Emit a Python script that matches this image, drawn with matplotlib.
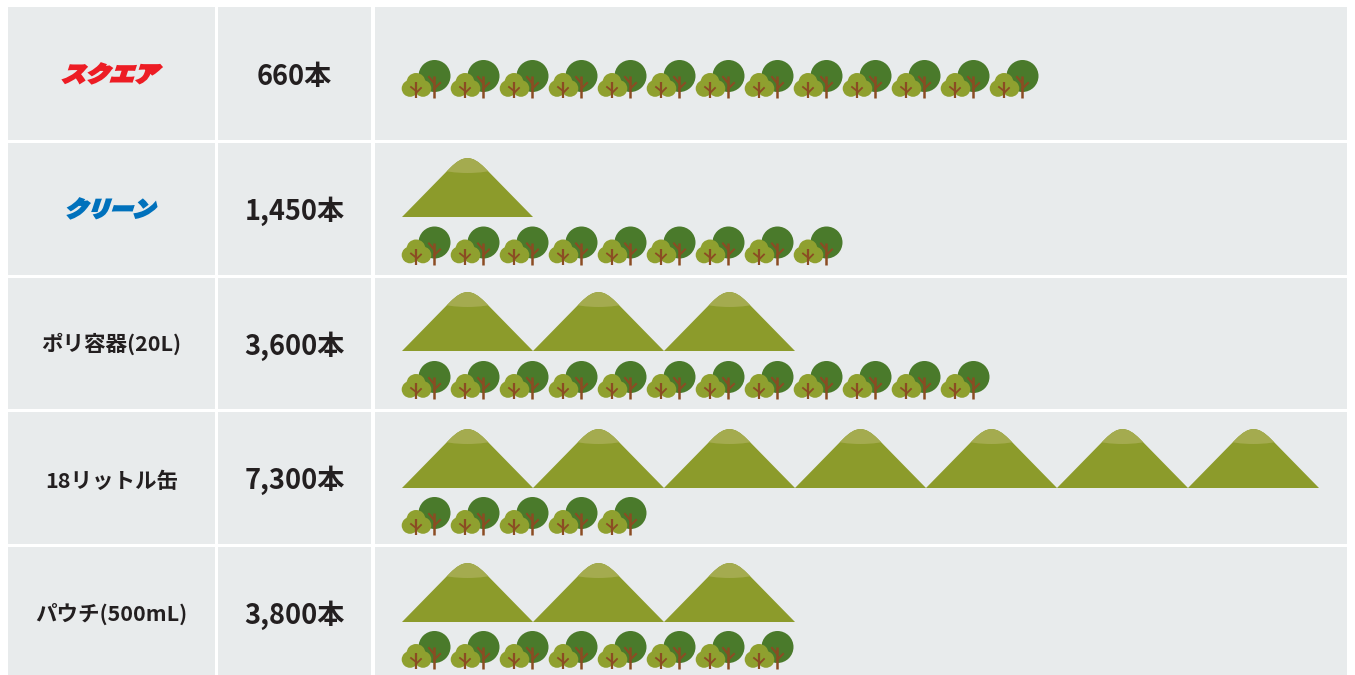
#!/usr/bin/env python3
# plot.py

import matplotlib
matplotlib.use("Agg")
import matplotlib.pyplot as plt
import matplotlib.patheffects as pe
from matplotlib.patches import Rectangle, Circle, Ellipse, PathPatch
from matplotlib.path import Path
from matplotlib.transforms import Affine2D

plt.rcParams['font.family'] = ['Noto Sans CJK JP', 'DejaVu Sans']

# one row per product
labels = ["スクエア", "クリーン", "ポリ容器(20L)", "18リットル缶", "パウチ(500mL)"]
values = ["660本", "1,450本", "3,600本", "7,300本", "3,800本"]
mountains = [0, 1, 3, 7, 3]
trees = [13, 9, 12, 5, 8]
logo_colors = ["#ed1c24", "#0071bc", None, None, None]

BG = "#e8ebec"
TEXT = "#231f20"

# layout, in pixels
row_tops = [7, 143, 278, 412, 547]
row_bottoms = [140, 275, 409, 544, 675]
text_y = [77, 211, 346, 480, 615]
label_y = [75, 210, 344, 481, 614]
logo_width = [1.02, 0.95, 1, 1, 1]
mountain_base = [None, 217, 351, 488, 622]
tree_base = [98, 264.5, 399, 535, 669]
columns = [(8, 215), (218, 371), (375, 1347)]
ICON_X = 402
TREE_STEP = 49
MOUNTAIN_STEP = 131


class SkewText(pe.AbstractPathEffect):
    """Slants and fattens a text, for the two logo labels."""

    def __init__(self, x, y, scale_x, scale_y, angle, width, color):
        super().__init__()
        self.x, self.y = x, y
        self.scale_x, self.scale_y, self.angle = scale_x, scale_y, angle
        self.width, self.color = width, color

    def draw_path(self, renderer, gc, tpath, affine, rgbFace=None):
        skew = (Affine2D().translate(-self.x, -self.y)
                .scale(self.scale_x, self.scale_y).skew_deg(self.angle, 0)
                .translate(self.x, self.y))
        gc0 = renderer.new_gc()
        gc0.copy_properties(gc)
        gc0.set_linewidth(self.width)
        gc0.set_foreground(self.color)
        gc0.set_joinstyle("miter")
        renderer.draw_path(gc0, tpath, affine + skew, rgbFace)
        gc0.restore()


def draw_mountain(ax, x, base):
    verts = [(x, base), (x + 48, base - 49),
             (x + 61.3, base - 62.3), (x + 69.7, base - 62.3), (x + 83, base - 49),
             (x + 131, base), (x, base)]
    codes = [Path.MOVETO, Path.LINETO,
             Path.CURVE4, Path.CURVE4, Path.CURVE4,
             Path.LINETO, Path.CLOSEPOLY]
    shape = PathPatch(Path(verts, codes), fc="#8c9b2b", ec="none", zorder=3)
    ax.add_patch(shape)
    # lighter cap at the summit
    cap = Ellipse((x + 65.5, base - 59), 90, 30, fc="#a4ab4f", ec="none", zorder=4)
    ax.add_patch(cap)
    cap.set_clip_path(shape)


def draw_tree(ax, x, base):
    dark, light, trunk = "#4a7a2b", "#8fa02f", "#8b4c23"
    ax.add_patch(Circle((x + 32.5, base - 22), 16, fc=dark, ec="none", zorder=3))
    ax.plot([x + 32, x + 32], [base, base - 22], color=trunk, lw=1.8, zorder=4, solid_capstyle="butt")
    ax.plot([x + 32, x + 38], [base - 9, base - 15], color=trunk, lw=1.5, zorder=4)
    ax.plot([x + 32, x + 27], [base - 15, base - 21], color=trunk, lw=1.5, zorder=4)
    for dx, dy, r in [(8, 9.5, 8.3), (21, 9.5, 8.3), (14, 15.5, 9.5)]:
        ax.add_patch(Circle((x + dx, base - dy), r, fc=light, ec="none", zorder=5))
    ax.plot([x + 14, x + 14], [base, base - 16], color=trunk, lw=1.6, zorder=6, solid_capstyle="butt")
    ax.plot([x + 14, x + 9], [base - 7, base - 11], color=trunk, lw=1.3, zorder=6)
    ax.plot([x + 14, x + 19], [base - 5, base - 10], color=trunk, lw=1.3, zorder=6)


fig = plt.figure(figsize=(13.55, 6.75), dpi=100)
ax = fig.add_axes([0, 0, 1, 1])
ax.set_xlim(0, 1355)
ax.set_ylim(675, 0)
ax.axis("off")

for i in range(len(labels)):
    for x0, x1 in columns:
        ax.add_patch(Rectangle((x0, row_tops[i]), x1 - x0, row_bottoms[i] - row_tops[i], fc=BG, ec="none"))

    cx = sum(columns[0]) / 2
    if logo_colors[i]:
        t = ax.text(cx, label_y[i], labels[i], ha="center", va="center",
                    fontsize=17, fontweight="black", color=logo_colors[i])
        # path effect works in display pixels, y axis is flipped
        t.set_path_effects([SkewText(cx, 675 - label_y[i], logo_width[i], 0.92, 18, 1.6, logo_colors[i])])
    else:
        ax.text(cx, label_y[i], labels[i], ha="center", va="center",
                fontsize=15.5, fontweight="bold", color=TEXT)

    ax.text(sum(columns[1]) / 2, text_y[i], values[i], ha="center", va="center",
            fontsize=19.5, fontweight="bold", color=TEXT)

    for m in range(mountains[i]):
        draw_mountain(ax, ICON_X + m * MOUNTAIN_STEP, mountain_base[i])
    for k in range(trees[i]):
        draw_tree(ax, ICON_X + k * TREE_STEP, tree_base[i])

fig.savefig("out.png", dpi=100, facecolor="white")
